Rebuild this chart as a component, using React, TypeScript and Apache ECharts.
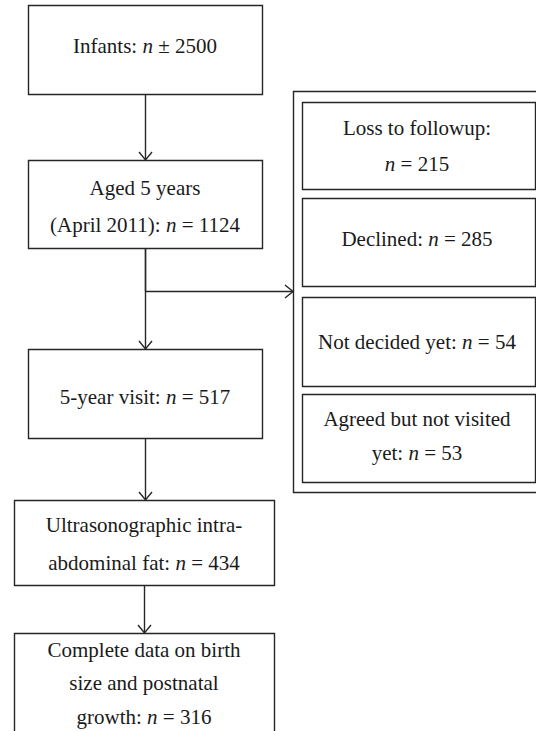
import React, { useEffect, useRef } from "react";
import * as echarts from "echarts";

// ---- content ----
const mainLabels: string[][] = [
  ["Infants: {i|n} ± 2500"],
  ["Aged 5 years", "(April 2011): {i|n} = 1124"],
  ["5-year visit: {i|n} = 517"],
  ["Ultrasonographic intra-", "abdominal fat: {i|n} = 434"],
  ["Complete data on birth", "size and postnatal", "growth: {i|n} = 316"],
];
const sideLabels: string[][] = [
  ["Loss to followup:", "{i|n} = 215"],
  ["Declined: {i|n} = 285"],
  ["Not decided yet: {i|n} = 54"],
  ["Agreed but not visited", "yet: {i|n} = 53"],
];

// ---- layout (pixels) ----
const mainRects = [
  { x: 28, y: 5, w: 234, h: 89, cx: 145, lines: [46] },
  { x: 28, y: 160, w: 234, h: 88, cx: 145, lines: [187.5, 225] },
  { x: 28, y: 349, w: 234, h: 89, cx: 145, lines: [396.5] },
  { x: 14, y: 500, w: 260, h: 85, cx: 144, lines: [525, 563] },
  { x: 14, y: 633, w: 260, h: 140, cx: 144, lines: [649.5, 683, 716.5] },
];
const sideRects = [
  { x: 302, y: 102, w: 233, h: 87, cx: 417, lines: [127.5, 164] },
  { x: 302, y: 198, w: 233, h: 88, cx: 417, lines: [239] },
  { x: 302, y: 297, w: 233, h: 89, cx: 417, lines: [341.5] },
  { x: 302, y: 394, w: 233, h: 88, cx: 417, lines: [418.5, 452.5] },
];
const outer = { x: 293, y: 91, w: 260, h: 401 };

const LINE = "#262626";
const TEXT = "#1a1a1a";
const FONT = "'Liberation Serif', 'DejaVu Serif', serif";
const FS = 21;

function textEl(t: string, x: number, y: number) {
  return {
    type: "text",
    x,
    y,
    style: {
      text: t,
      fill: TEXT,
      fontFamily: FONT,
      fontSize: FS,
      align: "center",
      verticalAlign: "middle",
      rich: {
        i: { fontStyle: "italic", fontFamily: FONT, fontSize: FS, fill: TEXT },
      },
    },
  };
}

function rectEl(x: number, y: number, w: number, h: number) {
  return {
    type: "rect",
    shape: { x: x + 0.5, y: y + 0.5, width: w, height: h },
    style: { fill: "#fff", stroke: LINE, lineWidth: 1.4 },
  };
}

function lineEl(x1: number, y1: number, x2: number, y2: number) {
  return {
    type: "line",
    shape: { x1, y1, x2, y2 },
    style: { stroke: LINE, lineWidth: 1.4 },
  };
}

function arrowDown(x: number, y1: number, y2: number) {
  return [
    lineEl(x + 0.5, y1, x + 0.5, y2),
    {
      type: "polyline",
      shape: { points: [[x + 0.5 - 6.5, y2 - 8], [x + 0.5, y2], [x + 0.5 + 6.5, y2 - 8]] },
      style: { stroke: LINE, lineWidth: 1.4, fill: null },
    },
  ];
}

function arrowRight(y: number, x1: number, x2: number) {
  return [
    lineEl(x1, y + 0.5, x2, y + 0.5),
    {
      type: "polyline",
      shape: { points: [[x2 - 8, y + 0.5 - 6.5], [x2, y + 0.5], [x2 - 8, y + 0.5 + 6.5]] },
      style: { stroke: LINE, lineWidth: 1.4, fill: null },
    },
  ];
}

export default function App() {
  const ref = useRef<HTMLDivElement>(null);
  useEffect(() => {
    if (!ref.current) return;
    const chart = echarts.init(ref.current, null, { renderer: "svg" });
    const elements: any[] = [];

    elements.push(...arrowDown(145, 94, 160));
    elements.push(lineEl(145.5, 248, 145.5, 291.5));
    elements.push(...arrowDown(145, 248, 349));
    elements.push(...arrowRight(291, 145.5, 293));
    elements.push(...arrowDown(145, 438, 500));
    elements.push(...arrowDown(144, 585, 633));

    elements.push(rectEl(outer.x, outer.y, outer.w, outer.h));

    mainRects.forEach((r, i) => {
      elements.push(rectEl(r.x, r.y, r.w, r.h));
      mainLabels[i].forEach((t, j) => elements.push(textEl(t, r.cx, r.lines[j])));
    });
    sideRects.forEach((r, i) => {
      elements.push(rectEl(r.x, r.y, r.w, r.h));
      sideLabels[i].forEach((t, j) => elements.push(textEl(t, r.cx, r.lines[j])));
    });

    chart.setOption({
      animation: false,
      backgroundColor: "#ffffff",
      graphic: { elements },
    });
    return () => chart.dispose();
  }, []);
  return (
    <div
      ref={ref}
      style={{ position: "absolute", left: 0, top: 0, width: 536, height: 731 }}
    />
  );
}
